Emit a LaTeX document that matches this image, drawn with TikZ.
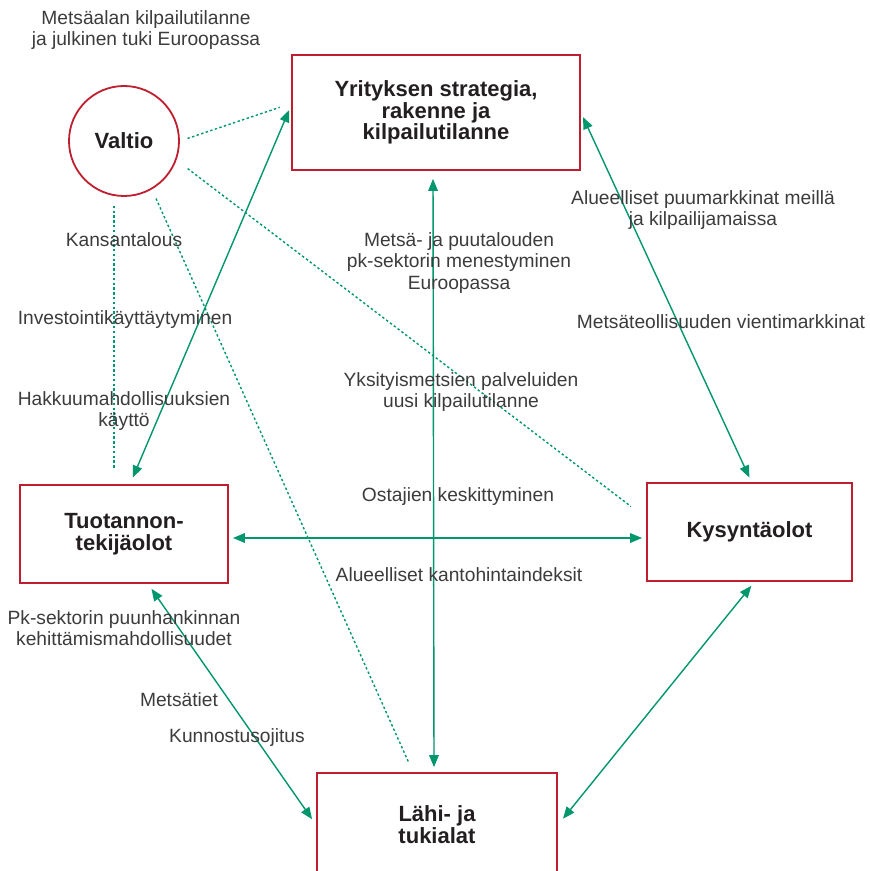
\documentclass[tikz,border=0pt]{standalone}
\usepackage{fontspec}
\setmainfont{Liberation Sans}
\setsansfont{Liberation Sans}
\usetikzlibrary{arrows.meta}
\definecolor{frameColor}{RGB}{190, 30, 45}
\definecolor{linkColor}{RGB}{0, 150, 110}
\definecolor{labelColor}{RGB}{60, 60, 60}
\definecolor{titleColor}{RGB}{35, 31, 32}

\tikzset{
  factor/.style={draw=frameColor, line width=0.9pt, fill=white, align=center, text=titleColor,
    font=\sffamily\bfseries\fontsize{11}{10.9}\selectfont},
  link/.style={linkColor, line width=0.7pt,
    {Triangle[length=6pt,width=4.8pt]}-{Triangle[length=6pt,width=4.8pt]}},
  hint/.style={linkColor, line width=0.7pt, dash pattern=on 1.2pt off 1.2pt},
  lbl/.style={text=labelColor, align=center, inner sep=0pt,
    font=\sffamily\fontsize{9.6}{10.8}\selectfont},
}

\begin{document}
\begin{tikzpicture}[x=0.5pt, y=-0.5pt, font=\sffamily]
  \useasboundingbox (0,0) rectangle (869,871);
  \fill[white] (0,0) rectangle (869,871);
  \clip (0,0) rectangle (869,871);

  % The state and the four corners of the diamond
  \node[factor, circle, minimum size=55pt] (valtio) at (124,141) {Valtio};
  \node[factor, minimum width=144pt, minimum height=57.5pt] (strat) at (436,112.5)
    {Yrityksen strategia,\\ rakenne ja\\ kilpailutilanne};
  \node[factor, minimum width=104pt, minimum height=49pt] (tuot) at (124,534)
    {Tuotannon-\\ tekijäolot};
  \node[factor, minimum width=102.5pt, minimum height=49pt] (kys) at (749.5,532) {Kysyntäolot};
  \node[factor, minimum width=120pt, minimum height=52pt] (lahi) at (437,825)
    {Lähi- ja\\ tukialat};

  % Two-way links between the corners
  \draw[link, shorten <=2.5pt, shorten >=3.5pt] ([yshift=3.5pt]strat.west) -- ([xshift=3pt]tuot.north);
  \draw[link, shorten <=2.5pt, shorten >=2.5pt] (strat.east) -- ([xshift=1pt]kys.north);
  \draw[link, shorten <=4pt, shorten >=2.5pt] ([xshift=-1.5pt]strat.south) -- ([xshift=-1.5pt]lahi.north);
  \draw[link, shorten <=2pt, shorten >=2pt] ([yshift=-2pt]tuot.east) -- ([yshift=-2pt]tuot.east -| kys.west);
  \draw[link, shorten <=3pt, shorten >=3.5pt] ([xshift=12pt]tuot.south) -- (lahi.west);
  \draw[link, shorten <=2.5pt, shorten >=4pt] ([xshift=2.5pt]kys.south) -- (lahi.east);

  % Dotted influence of the state
  \draw[hint, shorten <=4pt, shorten >=6pt] (valtio.east) -- ([yshift=4.5pt]strat.west);
  \draw[hint, shorten <=4.5pt, shorten >=7.5pt] ([xshift=-5pt]valtio.south) -- ([xshift=-5pt]tuot.north);
  \draw[hint, shorten <=5pt, shorten >=5.5pt] (valtio.-60) -- ([xshift=-12pt]lahi.north);
  \draw[hint, shorten <=7pt, shorten >=9.5pt] (valtio.-20) -- ([yshift=7pt]kys.west);

  % Labels
  \node[lbl] (eurotuki) at (146,30) {Metsäalan kilpailutilanne\\ ja julkinen tuki Euroopassa};
  \node[lbl] (kansa) at (124,240) {Kansantalous};
  \node[lbl] (invest) at (125,320) {Investointikäyttäytyminen};
  \node[lbl] (hakkuu) at (124,411) {Hakkuumahdollisuuksien\\ käyttö};
  \node[lbl] (menestys) at (459,263) {Metsä- ja puutalouden\\ pk-sektorin menestyminen\\ Euroopassa};
  \node[lbl] (palvelu) at (461,392) {Yksityismetsien palveluiden\\ uusi kilpailutilanne};
  \node[lbl] (ostajat) at (458,497) {Ostajien keskittyminen};
  \node[lbl] (kanto) at (459,575) {Alueelliset kantohintaindeksit};
  \node[lbl] (puumark) at (703,210) {Alueelliset puumarkkinat meillä\\ ja kilpailijamaissa};
  \node[lbl] (vienti) at (721,322) {Metsäteollisuuden vientimarkkinat};
  \node[lbl] (hankinta) at (124,628) {Pk-sektorin puunhankinnan\\ kehittämismahdollisuudet};
  \node[lbl] (tiet) at (179,700) {Metsätiet};
  \node[lbl] (ojitus) at (237,738) {Kunnostusojitus};
\end{tikzpicture}
\end{document}
